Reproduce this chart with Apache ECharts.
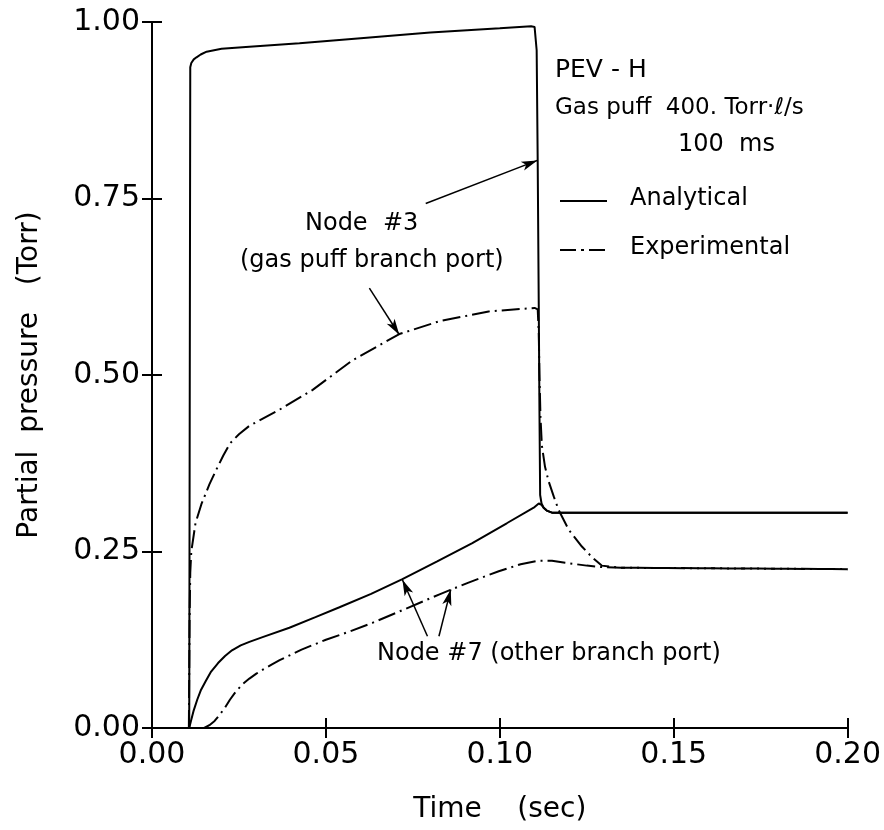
<!DOCTYPE html>
<html><head><meta charset="utf-8">
<script src="https://cdn.jsdelivr.net/npm/echarts@6/dist/echarts.min.js"></script>
<style>html,body{margin:0;padding:0;background:#fff}#c{width:884px;height:830px}</style>
</head><body><div id="c"></div>
<script>
// ---- data (time in s, pressure in Torr) ----
const xTicks = [0, 0.05, 0.10, 0.15, 0.20];
const yTicks = [0, 0.25, 0.50, 0.75, 1.00];
const legendNames = ['Analytical', 'Experimental'];

const node3AnaT = [0.0107, 0.0110, 0.0113, 0.0120, 0.0128, 0.0140, 0.0157, 0.0200, 0.0280, 0.0424, 0.0600, 0.0800, 0.1000, 0.1090, 0.1100, 0.1106, 0.1109, 0.1112, 0.1114, 0.1116, 0.1120, 0.1126, 0.1135, 0.1150, 0.2000];
const node3AnaV = [0.000, 0.936, 0.942, 0.947, 0.950, 0.954, 0.958, 0.962, 0.965, 0.970, 0.977, 0.985, 0.991, 0.994, 0.993, 0.960, 0.800, 0.600, 0.450, 0.330, 0.318, 0.312, 0.308, 0.305, 0.305];

const node7AnaT = [0.0107, 0.0112, 0.0120, 0.0130, 0.0140, 0.0155, 0.0170, 0.0190, 0.0210, 0.0230, 0.0255, 0.0280, 0.0320, 0.0395, 0.0470, 0.0539, 0.0630, 0.0720, 0.0820, 0.0921, 0.1020, 0.1100, 0.1112, 0.1116, 0.1120, 0.1126, 0.1135, 0.1150, 0.2000];
const node7AnaV = [0.000, 0.010, 0.025, 0.040, 0.053, 0.067, 0.080, 0.092, 0.102, 0.110, 0.117, 0.122, 0.129, 0.142, 0.157, 0.171, 0.190, 0.211, 0.236, 0.262, 0.290, 0.313, 0.318, 0.318, 0.316, 0.312, 0.308, 0.305, 0.305];

const node3ExpT = [0.0106, 0.0108, 0.0110, 0.0113, 0.0125, 0.0142, 0.0165, 0.0185, 0.0205, 0.0224, 0.0250, 0.0280, 0.0367, 0.0462, 0.0577, 0.0711, 0.0825, 0.0968, 0.1100, 0.1109, 0.1112, 0.1114, 0.1117, 0.1121, 0.1130, 0.1140, 0.1155, 0.1169, 0.1198, 0.1236, 0.1265, 0.1293, 0.1350, 0.2000];
const node3ExpV = [0.000, 0.150, 0.220, 0.250, 0.290, 0.317, 0.345, 0.366, 0.386, 0.403, 0.416, 0.428, 0.451, 0.479, 0.521, 0.558, 0.576, 0.590, 0.595, 0.593, 0.560, 0.500, 0.440, 0.400, 0.370, 0.350, 0.328, 0.309, 0.281, 0.257, 0.242, 0.230, 0.227, 0.225];

const node7ExpT = [0.0150, 0.0165, 0.0180, 0.0195, 0.0210, 0.0224, 0.0240, 0.0260, 0.0280, 0.0300, 0.0320, 0.0345, 0.0367, 0.0430, 0.0500, 0.0570, 0.0634, 0.0730, 0.0825, 0.0910, 0.0997, 0.1060, 0.1112, 0.1150, 0.1188, 0.1250, 0.1293, 0.1350, 0.2000];
const node7ExpV = [0.000, 0.004, 0.010, 0.019, 0.029, 0.040, 0.051, 0.062, 0.070, 0.077, 0.083, 0.090, 0.096, 0.111, 0.125, 0.137, 0.149, 0.169, 0.189, 0.206, 0.222, 0.232, 0.237, 0.237, 0.234, 0.230, 0.228, 0.227, 0.225];

// annotation arrows: [fromT, fromV, toT, toV]
const arrowNode3Ana = [0.0787, 0.743, 0.1108, 0.804];
const arrowNode3Exp = [0.0625, 0.623, 0.0711, 0.557];
const arrowNode7Ana = [0.0792, 0.130, 0.0720, 0.210];
const arrowNode7Exp = [0.0825, 0.130, 0.0859, 0.196];

const FONT = "'DejaVu Sans', sans-serif";
const pairs = (t, v) => t.map((x, i) => [x, v[i]]);
const dashDot = [18, 5, 2, 5];

const arrow = a => [
  {coord: [a[0], a[1]], symbol: 'none'},
  {coord: [a[2], a[3]], symbol: 'arrow', symbolSize: [7, 16]}
];

const chart = echarts.init(document.getElementById('c'), null, {renderer: 'canvas'});
const axisCommon = {
  type: 'value',
  axisLine: {show: true, lineStyle: {color: '#000', width: 2}},
  axisTick: {show: true, inside: true, length: 10, lineStyle: {color: '#000', width: 2}},
  splitLine: {show: false}
};
chart.setOption({
  animation: false,
  backgroundColor: '#fff',
  grid: {left: 152, right: 34, top: 22, bottom: 102},
  xAxis: [
    Object.assign({}, axisCommon, {
      min: xTicks[0], max: xTicks[xTicks.length - 1], interval: 0.05,
      axisLabel: {fontFamily: FONT, fontSize: 30, color: '#000', margin: 12, formatter: v => v.toFixed(2)},
      name: 'Time    (sec)', nameLocation: 'middle', nameGap: 68,
      nameTextStyle: {fontFamily: FONT, fontSize: 28, color: '#000'}
    }),
    Object.assign({}, axisCommon, {
      position: 'top', min: 0, max: 0.2, interval: 0.05, axisLabel: {show: false}
    })
  ],
  yAxis: [
    Object.assign({}, axisCommon, {
      min: yTicks[0], max: yTicks[yTicks.length - 1], interval: 0.25,
      axisLabel: {fontFamily: FONT, fontSize: 30, color: '#000', margin: 12, formatter: v => v.toFixed(2)},
      name: 'Partial  pressure   (Torr)', nameLocation: 'middle', nameGap: 108,
      nameTextStyle: {fontFamily: FONT, fontSize: 28, color: '#000'}
    }),
    Object.assign({}, axisCommon, {
      position: 'right', min: 0, max: 1, interval: 0.25, axisLabel: {show: false}
    })
  ],
  series: [
    {name: legendNames[0], type: 'line', data: pairs(node3AnaT, node3AnaV), showSymbol: false, symbol: 'none',
     lineStyle: {color: '#000', width: 2}, itemStyle: {color: '#000'},
     markLine: {silent: true, symbol: ['none', 'arrow'], label: {show: false},
       lineStyle: {color: '#000', width: 1.5, type: 'solid'}, emphasis: {disabled: true},
       data: [arrow(arrowNode3Ana), arrow(arrowNode3Exp), arrow(arrowNode7Ana), arrow(arrowNode7Exp)]}},
    {name: legendNames[0], type: 'line', data: pairs(node7AnaT, node7AnaV), showSymbol: false, symbol: 'none',
     lineStyle: {color: '#000', width: 2}, itemStyle: {color: '#000'}},
    {name: legendNames[1], type: 'line', data: pairs(node3ExpT, node3ExpV), showSymbol: false, symbol: 'none',
     lineStyle: {color: '#000', width: 2, type: dashDot}, itemStyle: {color: '#000'}},
    {name: legendNames[1], type: 'line', data: pairs(node7ExpT, node7ExpV), showSymbol: false, symbol: 'none',
     lineStyle: {color: '#000', width: 2, type: dashDot}, itemStyle: {color: '#000'}}
  ],
  graphic: [
    {type: 'text', left: 555, top: 58, style: {text: 'PEV - H', font: '25px ' + FONT, fill: '#000'}},
    {type: 'text', left: 555, top: 97, style: {text: 'Gas puff  400. Torr·ℓ/s', font: '23px ' + FONT, fill: '#000'}},
    {type: 'text', left: 678, top: 133, style: {text: '100  ms', font: '24px ' + FONT, fill: '#000'}},
    {type: 'line', shape: {x1: 560, y1: 201, x2: 607, y2: 201}, style: {stroke: '#000', lineWidth: 2}},
    {type: 'text', left: 630, top: 187, style: {text: legendNames[0], font: '24px ' + FONT, fill: '#000'}},
    {type: 'line', shape: {x1: 560, y1: 250, x2: 608, y2: 250}, style: {stroke: '#000', lineWidth: 2, lineDash: [16, 5, 3, 5]}},
    {type: 'text', left: 630, top: 236, style: {text: legendNames[1], font: '24px ' + FONT, fill: '#000'}},
    {type: 'text', left: 305, top: 212, style: {text: 'Node  #3', font: '24px ' + FONT, fill: '#000'}},
    {type: 'text', left: 240, top: 249, style: {text: '(gas puff branch port)', font: '24px ' + FONT, fill: '#000'}},
    {type: 'text', left: 377, top: 642, style: {text: 'Node #7 (other branch port)', font: '24px ' + FONT, fill: '#000'}}
  ]
});
</script></body></html>
